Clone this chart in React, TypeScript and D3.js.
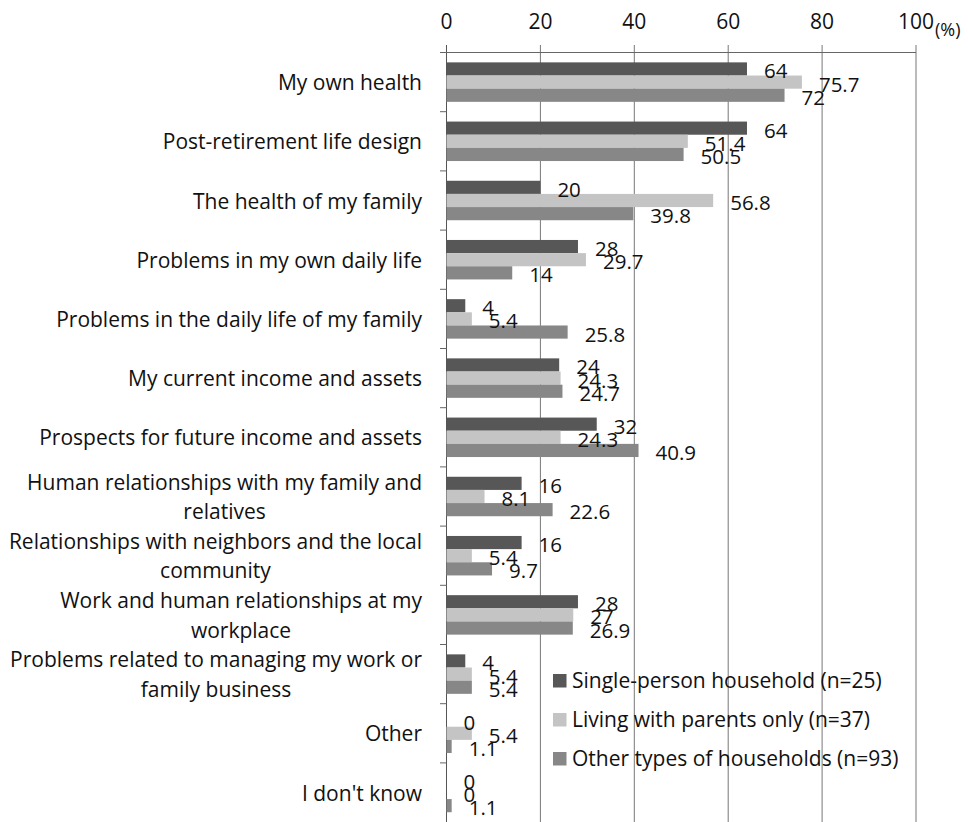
import React from "react";
import * as d3 from "d3";

const categories: string[] = [
  "My own health",
  "Post-retirement life design",
  "The health of my family",
  "Problems in my own daily life",
  "Problems in the daily life of my family",
  "My current income and assets",
  "Prospects for future income and assets",
  "Human relationships with my family and\nrelatives",
  "Relationships with neighbors and the local\ncommunity",
  "Work and human relationships at my\nworkplace",
  "Problems related to managing my work or\nfamily business",
  "Other",
  "I don't know",
];

const seriesNames: string[] = [
  "Single-person household (n=25)",
  "Living with parents only (n=37)",
  "Other types of households (n=93)",
];

const singlePerson: number[] = [64, 64, 20, 28, 4, 24, 32, 16, 16, 28, 4, 0, 0];
const parentsOnly: number[] = [75.7, 51.4, 56.8, 29.7, 5.4, 24.3, 24.3, 8.1, 5.4, 27, 5.4, 5.4, 0];
const otherTypes: number[] = [72, 50.5, 39.8, 14, 25.8, 24.7, 40.9, 22.6, 9.7, 26.9, 5.4, 1.1, 1.1];

const xTicks: number[] = [0, 20, 40, 60, 80, 100];

const seriesColors = ["#575757", "#c4c4c4", "#878787"];

const FONT = "'Open Sans', sans-serif";
const CAT_FS = 21;

let measureCtx: CanvasRenderingContext2D | null = null;
function measure(text: string, size: number): number {
  if (!measureCtx) {
    const c = document.createElement("canvas");
    measureCtx = c.getContext("2d");
  }
  if (!measureCtx) return text.length * size * 0.5;
  measureCtx.font = `${size}px 'Open Sans'`;
  return measureCtx.measureText(text).width;
}

export default function App() {
  const W = 968;
  const H = 822;
  const x = d3.scaleLinear().domain([0, 100]).range([446.5, 916]);
  const y = d3.scaleBand<string>().domain(categories).range([52.5, 822.1]).padding(0);
  const inner = d3
    .scaleBand<number>()
    .domain([0, 1, 2])
    .range([0, y.bandwidth()])
    .paddingInner(0)
    .paddingOuter(0.75);
  const seriesData = [singlePerson, parentsOnly, otherTypes];
  const axisY = 52.5;
  const bottom = H;
  const labelRight = 422;

  return (
    <svg
      width={W}
      height={H}
      style={{ position: "absolute", left: 0, top: 0, background: "#fff" }}
      fontFamily={FONT}
    >
      <rect x={0} y={0} width={W} height={H} fill="#fff" />
      {/* gridlines */}
      {xTicks.map((t) => (
        <line
          key={"g" + t}
          x1={x(t)}
          x2={x(t)}
          y1={axisY - 7.5}
          y2={bottom}
          stroke={t === 0 ? "#555" : "#777"}
          strokeWidth={1}
        />
      ))}
      {/* top axis line */}
      <line x1={440} x2={x(100)} y1={axisY} y2={axisY} stroke="#666" strokeWidth={1} />
      {/* category ticks */}
      {categories.map((c, i) =>
        i === 0 ? null : (
          <line
            key={"ct" + i}
            x1={440}
            x2={x(0)}
            y1={y(c)!}
            y2={y(c)!}
            stroke="#666"
            strokeWidth={1}
          />
        )
      )}
      {/* tick labels */}
      {xTicks.map((t) => (
        <text
          key={"tl" + t}
          x={x(t)}
          y={21}
          textAnchor="middle"
          dominantBaseline="central"
          fontSize={21}
          fill="#111"
        >
          {t}
        </text>
      ))}
      <text x={935} y={29} dominantBaseline="central" fontSize={18} fill="#111">
        (%)
      </text>
      {/* bars */}
      {categories.map((c, i) => (
        <g key={"b" + i} transform={`translate(0,${y(c)})`}>
          {seriesData.map((s, k) => (
            <rect
              key={k}
              x={x(0)}
              y={inner(k)!}
              width={x(s[i]) - x(0)}
              height={inner.bandwidth()}
              fill={seriesColors[k]}
            />
          ))}
        </g>
      ))}
      {/* value labels */}
      {categories.map((c, i) => (
        <g key={"v" + i} transform={`translate(0,${y(c)})`}>
          {seriesData.map((s, k) => (
            <text
              key={k}
              x={x(s[i]) + 17}
              y={inner(k)! + inner.bandwidth() / 2 + 1.5}
              dominantBaseline="central"
              fontSize={20.5}
              fill="#111"
            >
              {s[i]}
            </text>
          ))}
        </g>
      ))}
      {/* category labels */}
      {categories.map((c, i) => {
        const lines = c.split("\n");
        const cy = y(c)! + y.bandwidth() / 2;
        const lh = 29.5;
        const maxW = Math.max(...lines.map((l) => measure(l, CAT_FS)));
        const center = labelRight - maxW / 2;
        return (
          <text key={"cl" + i} fontSize={CAT_FS} fill="#111">
            {lines.map((ln, j) => (
              <tspan
                key={j}
                x={lines.length > 1 ? center : labelRight}
                y={cy + (j - (lines.length - 1) / 2) * lh}
                dominantBaseline="central"
                textAnchor={lines.length > 1 ? "middle" : "end"}
              >
                {ln}
              </tspan>
            ))}
          </text>
        );
      })}
      {/* legend */}
      {seriesNames.map((n, k) => {
        const cy = 680 + k * 39;
        return (
          <g key={"lg" + k}>
            <rect x={553} y={cy - 6} width={13.5} height={13.5} fill={seriesColors[k]} />
            <text x={572} y={cy} dominantBaseline="central" fontSize={21} fill="#111">
              {n}
            </text>
          </g>
        );
      })}
    </svg>
  );
}
